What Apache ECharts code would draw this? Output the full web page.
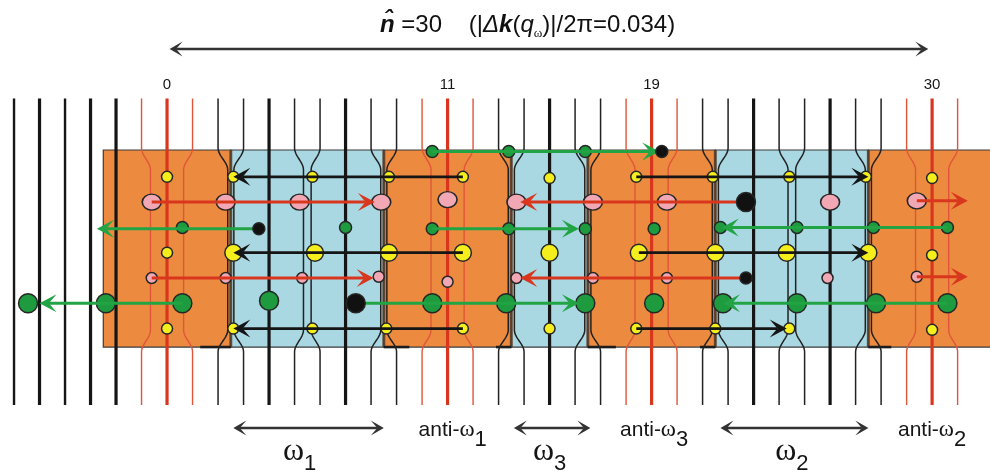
<!DOCTYPE html>
<html>
<head>
<meta charset="utf-8">
<script src="https://cdn.jsdelivr.net/npm/echarts@6/dist/echarts.min.js"></script>
<style>
  html, body { margin: 0; padding: 0; background: #ffffff; }
  #chart { width: 990px; height: 472px; }
</style>
</head>
<body>
<div id="chart"></div>
<script>
// Lattice sites n, each drawn as a vertical line
const sites = [-6, -5, -4, -3, -2, -1, 0, 1, 2, 3, 4, 5, 6, 7, 8, 9, 10, 11, 12, 13, 14, 15, 16, 17, 18, 19, 20, 21, 22, 23, 24, 25, 26, 27, 28, 29, 30, 31];
// Inward shift of each line inside the slab (lattice units), same order as sites
const pinch = [0, 0, 0, 0, 0, 0.35, 0, -0.35, 0.38, -0.38, 0, 0.35, -0.35, 0, 0.38, -0.38, 0.35, 0, -0.35, 0.38, -0.38, 0, 0.38, -0.38, 0.35, 0, -0.35, 0.38, -0.38, 0, 0.35, -0.35, 0, 0.38, -0.38, 0.35, 0, -0.35];
// Sites of the anti-frequency centres and their neighbours
const redCentres = [0, 11, 19, 30];
const redSides = [-1, 1, 10, 12, 18, 20, 29, 31];
const heavySites = [-5, -3, -2, 4, 7, 15, 23, 26];

// Slab boundaries (half-integer sites); alternating anti / pump regions
const slabEdges = [-2.5, 2.5, 8.5, 13.5, 16.5, 21.5, 27.5, 32.4];
const slabRows = [-0.06, 7.73];
// Short dark ticks on the lower slab edge
const edgeTicks = [[1.3, 2.5], [8.5, 9.5], [12.9, 13.5], [16.5, 17.6], [20.9, 21.5], [27.5, 28.4]];

// Mode amplitudes: [site, row]
const yellowSmall = [[0, 1], [2.6, 1], [5.7, 1], [8.7, 1], [11.6, 1], [15, 1.05], [18.4, 1], [21.4, 1], [24.4, 1], [27.4, 1], [30, 1.05],
                     [0, 4], [30, 4.1],
                     [0, 7], [2.6, 7], [5.7, 7], [8.6, 7], [11.6, 7], [15, 7], [18.4, 7], [21.5, 7], [24.4, 7], [30, 7.05]];
const yellowLarge = [[2.6, 4], [5.8, 4], [8.7, 4], [11.6, 4], [15, 4], [18.5, 4], [21.5, 4], [24.3, 4], [27.5, 4]];
const pinkLarge = [[-0.6, 2], [2.3, 2], [5.2, 2], [8.4, 2], [11, 1.9], [13.7, 2], [16.7, 2], [19.6, 2], [26, 2], [29.4, 1.95]];
const pinkSmall = [[-0.6, 5], [2.3, 5], [5.3, 5], [8.3, 4.95], [11, 5.15], [13.7, 5], [16.7, 5], [19.6, 5], [25.9, 5], [29.4, 4.95]];
const greenSmall = [[10.4, 0], [13.4, 0], [16.4, 0],
                    [0.6, 3], [7, 3], [10.4, 3.05], [13.4, 3.05], [16.4, 3.05], [19.1, 3.05], [21.7, 3], [24.7, 3], [27.7, 3], [30.6, 3]];
const greenLarge = [[-5.45, 6], [-2.4, 6], [0.6, 6], [4, 5.9], [10.4, 6], [13.3, 6], [16.4, 6], [19.1, 6], [21.8, 6], [24.7, 6], [27.8, 6], [30.6, 6]];
const blackSmall = [[19.4, 0], [3.6, 3.05], [22.7, 5]];
const blackLarge = [[7.4, 6], [22.7, 2]];

// Transfers: [from site, to site, row]
const blackArrows = [[11.6, 2.6, 1], [11.6, 2.6, 4], [11.6, 2.6, 7], [18.4, 27.5, 1], [18.5, 27.5, 4], [18.4, 24.3, 7]];
const redArrows = [[-0.6, 8.15, 2], [-0.6, 8.1, 5], [22.7, 13.85, 2], [22.7, 13.85, 5], [29.4, 31.4, 1.95], [29.4, 31.4, 4.95]];
const greenArrows = [[10.4, 19.3, 0], [3.6, -2.75, 3.05], [10.4, 16.15, 3.05], [30.6, 21.75, 3], [0.6, -5.0, 6], [7.4, 16.15, 6], [30.6, 21.8, 6]];

// Axis annotations
const tickSites = [0, 11, 19, 30];
const tickLabels = ['0', '11', '19', '30'];
const periodSpan = [[0.1, 29.85]];
const pumpSpans = [[2.6, 8.5], [13.6, 16.6], [21.7, 27.5]];
const pumpCentres = [5.2, 15, 24.5];
const pumpIndex = ['1', '3', '2'];
const antiCentres = [11.2, 19.1, 30];
const antiIndex = ['1', '3', '2'];
const nHat = 30;
const deltaK = '0.034';

// ---- drawing ----
const X_MIN = -6.55, X_MAX = 32.27, Y_MIN = -5.99, Y_MAX = 12.67;
const ROW_TOP_LINE = -2.1, ROW_BOTTOM_LINE = 10.02;
const BEND = [-0.14, 0.73, 7.055, 7.925];

const C = {
  orange: '#EC8B3F', blue: '#A9D8E2', outline: '#3a3a3a', strip: '#5b3e2a',
  red: '#D9361E', redThin: '#E0553A', black: '#151515',
  yellow: '#F4EE1C', pink: '#F2A8B4', green: '#1E9B3E', greenLine: '#22A445', arrowGrey: '#333333',
  ink: '#151515'
};

function pinchPath(api, n, d) {
  const pts = [];
  const push = (row, f) => pts.push(api.coord([n + d * f, row]));
  push(ROW_TOP_LINE, 0);
  const steps = 12;
  for (let i = 0; i <= steps; i++) {
    const t = i / steps;
    push(BEND[0] + (BEND[1] - BEND[0]) * t, (1 - Math.cos(Math.PI * t)) / 2);
  }
  for (let i = 0; i <= steps; i++) {
    const t = i / steps;
    push(BEND[2] + (BEND[3] - BEND[2]) * t, (1 + Math.cos(Math.PI * t)) / 2);
  }
  push(ROW_BOTTOM_LINE, 0);
  return pts;
}

function lineStyleFor(n) {
  if (redCentres.includes(n)) return { stroke: C.red, lineWidth: 3.2 };
  if (redSides.includes(n)) return { stroke: C.redThin, lineWidth: 1.4 };
  if (heavySites.includes(n)) return { stroke: C.black, lineWidth: 3.2 };
  if (n < -1) return { stroke: C.black, lineWidth: 2.4 };
  return { stroke: '#222222', lineWidth: 1.5 };
}

function head(tip, dir, L, W, notch) {
  return [
    [tip[0], tip[1]],
    [tip[0] - dir * L, tip[1] - W / 2],
    [tip[0] - dir * L * notch, tip[1]],
    [tip[0] - dir * L, tip[1] + W / 2]
  ];
}

function arrowSeries(data, color, width, z) {
  return {
    type: 'custom', z: z, silent: true,
    data: data,
    renderItem: function (params, api) {
      const p1 = api.coord([api.value(0), api.value(2)]);
      const p2 = api.coord([api.value(1), api.value(2)]);
      const dir = p2[0] >= p1[0] ? 1 : -1;
      const L = 17, W = 18, notch = 0.55;
      return {
        type: 'group',
        children: [
          { type: 'line', shape: { x1: p1[0], y1: p1[1], x2: p2[0] - dir * L * notch, y2: p2[1] },
            style: { stroke: color, lineWidth: width } },
          { type: 'polygon', shape: { points: head(p2, dir, L, W, notch) },
            style: { fill: color } }
        ]
      };
    }
  };
}

function doubleArrowSeries(data, row, z) {
  return {
    type: 'custom', z: z, silent: true,
    data: data,
    renderItem: function (params, api) {
      const p1 = api.coord([api.value(0), row]);
      const p2 = api.coord([api.value(1), row]);
      const L = 13, W = 15, notch = 0.5;
      return {
        type: 'group',
        children: [
          { type: 'line', shape: { x1: p1[0] + L * notch, y1: p1[1], x2: p2[0] - L * notch, y2: p2[1] },
            style: { stroke: C.arrowGrey, lineWidth: 2.6 } },
          { type: 'polygon', shape: { points: head(p2, 1, L, W, notch) }, style: { fill: C.arrowGrey } },
          { type: 'polygon', shape: { points: head(p1, -1, L, W, notch) }, style: { fill: C.arrowGrey } }
        ]
      };
    }
  };
}

function dots(data, color, size, z) {
  return {
    type: 'scatter', z: z, silent: true, data: data,
    symbol: 'circle', symbolSize: size,
    itemStyle: { color: color, borderColor: '#262626', borderWidth: 1.5, opacity: 1 }
  };
}

const sans = '"Liberation Sans", Arial, sans-serif';
const serif = '"Liberation Serif", "Times New Roman", serif';

// Text placed at data coordinates, drawn as zrender rich text
function textSeries(points, textFn, rich, z) {
  return {
    type: 'custom', z: z, silent: true, data: points,
    renderItem: function (params, api) {
      const p = api.coord([api.value(0), api.value(1)]);
      return {
        type: 'text', x: p[0], y: p[1],
        style: { text: textFn(params.dataIndex), rich: rich, align: 'center', verticalAlign: 'middle', fill: C.ink }
      };
    }
  };
}

const series = [];

// slabs
series.push({
  type: 'custom', z: 1, silent: true,
  data: slabEdges.slice(0, -1).map((e, i) => [e, slabEdges[i + 1], i % 2]),
  renderItem: function (params, api) {
    const a = api.coord([api.value(0), slabRows[0]]);
    const b = api.coord([api.value(1), slabRows[1]]);
    return {
      type: 'rect',
      shape: { x: a[0], y: a[1], width: b[0] - a[0], height: b[1] - a[1] },
      style: { fill: api.value(2) === 0 ? C.orange : C.blue, stroke: C.outline, lineWidth: 1.2 }
    };
  }
});
// dark strips on internal slab boundaries
series.push({
  type: 'custom', z: 2, silent: true,
  data: slabEdges.slice(1, -1).map((e) => [e]),
  renderItem: function (params, api) {
    const a = api.coord([api.value(0), slabRows[0]]);
    const b = api.coord([api.value(0), slabRows[1]]);
    return { type: 'line', shape: { x1: a[0], y1: a[1], x2: b[0], y2: b[1] },
             style: { stroke: C.strip, lineWidth: 3, opacity: 0.85 } };
  }
});
// ticks on lower edge
series.push({
  type: 'custom', z: 2, silent: true,
  data: edgeTicks,
  renderItem: function (params, api) {
    const a = api.coord([api.value(0), slabRows[1]]);
    const b = api.coord([api.value(1), slabRows[1]]);
    return { type: 'line', shape: { x1: a[0], y1: a[1], x2: b[0], y2: b[1] },
             style: { stroke: '#1c1c1c', lineWidth: 2.6 } };
  }
});
// lattice lines
series.push({
  type: 'custom', z: 3, silent: true,
  data: sites.map((n, i) => [n, pinch[i]]),
  renderItem: function (params, api) {
    const n = api.value(0), d = api.value(1);
    const st = lineStyleFor(n);
    return { type: 'polyline', shape: { points: pinchPath(api, n, d) },
             style: { stroke: st.stroke, lineWidth: st.lineWidth, fill: null } };
  }
});

// amplitudes
series.push(dots(yellowSmall, C.yellow, 11, 4));
series.push(dots(yellowLarge, C.yellow, 17, 4));
series.push(dots(pinkLarge, C.pink, [19, 16], 4));
series.push(dots(pinkSmall, C.pink, 11, 4));
series.push(dots(greenSmall, C.green, 12, 4));
series.push(dots(greenLarge, C.green, 19, 4));

// transfers
series.push(arrowSeries(blackArrows, C.black, 2.8, 5));
series.push(arrowSeries(redArrows, C.red, 3, 5));
series.push(arrowSeries(greenArrows, C.greenLine, 3, 5));

series.push(dots(blackSmall, '#111111', 12, 6));
series.push(dots(blackLarge, '#111111', 19, 6));

// annotations
series.push(doubleArrowSeries(periodSpan, -4.05, 7));
series.push(doubleArrowSeries(pumpSpans, 10.93, 7));

series.push(textSeries(tickSites.map((n) => [n, -2.62]),
  (i) => '{t|' + tickLabels[i] + '}',
  { t: { fontFamily: sans, fontSize: 15, fill: C.ink } }, 8));

series.push(textSeries(antiCentres.map((n) => [n, 11.0]),
  (i) => '{a|anti-}{w|ω}{s|' + antiIndex[i] + '}',
  {
    a: { fontFamily: sans, fontSize: 21, fill: C.ink, lineHeight: 26 },
    w: { fontFamily: serif, fontSize: 23, fill: C.ink, lineHeight: 26 },
    s: { fontFamily: sans, fontSize: 22, fill: C.ink, lineHeight: 5, height: 5, verticalAlign: 'bottom' }
  }, 8));

series.push(textSeries(pumpCentres.map((n) => [n, 11.85]),
  (i) => '{w|ω}{s|' + pumpIndex[i] + '}',
  {
    w: { fontFamily: serif, fontSize: 32, fill: C.ink, lineHeight: 30 },
    s: { fontFamily: sans, fontSize: 22, fill: C.ink, lineHeight: 4, height: 4, verticalAlign: 'bottom' }
  }, 8));

const chart = echarts.init(document.getElementById('chart'), null, { renderer: 'canvas' });
chart.setOption({
  animation: false,
  backgroundColor: '#ffffff',
  title: {
    left: 375, top: 5,
    text: '{h|n\u0302}{r| =' + nHat + '    (|}{d|Δ}{k|k}{r|(}{q|q}{o|ω}{r|)|/2π=' + deltaK + ')}',
    textStyle: {
      fontWeight: 'normal',
      rich: {
        r: { fontFamily: sans, fontSize: 24, color: '#111', lineHeight: 30, fontWeight: 'normal' },
        h: { fontFamily: sans, fontSize: 24, color: '#111', lineHeight: 30, fontWeight: 'bold', fontStyle: 'italic' },
        d: { fontFamily: sans, fontSize: 24, color: '#111', lineHeight: 30, fontWeight: 'normal', fontStyle: 'italic' },
        k: { fontFamily: sans, fontSize: 24, color: '#111', lineHeight: 30, fontWeight: 'bold', fontStyle: 'italic' },
        q: { fontFamily: sans, fontSize: 24, color: '#111', lineHeight: 30, fontWeight: 'normal', fontStyle: 'italic' },
        o: { fontFamily: serif, fontSize: 13, color: '#111', lineHeight: 12, fontWeight: 'normal', verticalAlign: 'bottom' }
      }
    }
  },
  grid: { left: 0, right: 0, top: 0, bottom: 0, containLabel: false },
  xAxis: { type: 'value', min: X_MIN, max: X_MAX, show: false },
  yAxis: { type: 'value', min: Y_MIN, max: Y_MAX, inverse: true, show: false },
  series: series
});
</script>
</body>
</html>
